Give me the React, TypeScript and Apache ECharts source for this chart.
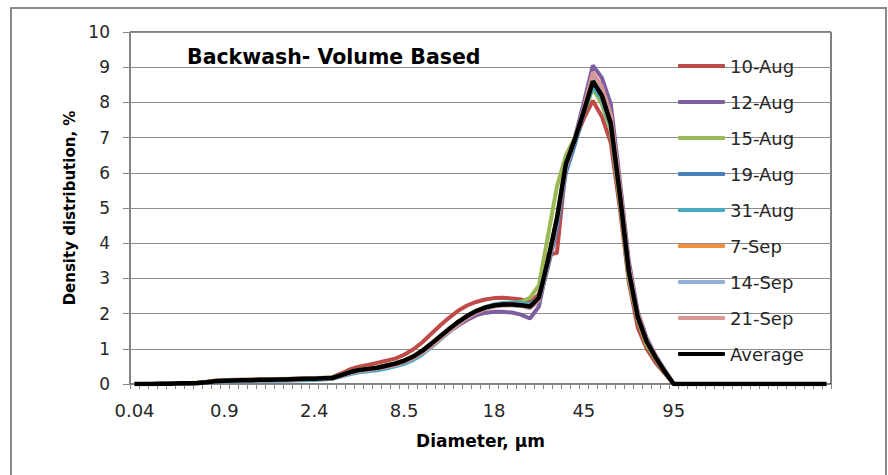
import React, { useEffect, useRef } from "react";
import * as echarts from "echarts";

// ---- data ----
const binCount = 78;
const tickLabels = ["0.04", "0.9", "2.4", "8.5", "18", "45", "95"];
const seriesNames = ["10-Aug", "12-Aug", "15-Aug", "19-Aug", "31-Aug", "7-Sep", "14-Sep", "21-Sep", "Average"];
const seriesColors = ["#BE4B48", "#7D5FA0", "#98B954", "#4A7EBB", "#46AAC5", "#F28E3C", "#94B1D9", "#D99694", "#000000"];

const aug10 = [0, 0, 0, 0.01, 0.01, 0.02, 0.02, 0.03, 0.06, 0.1,
  0.11, 0.12, 0.12, 0.13, 0.13, 0.13, 0.14, 0.14, 0.15, 0.15,
  0.16, 0.17, 0.19, 0.3, 0.42, 0.49, 0.54, 0.6, 0.66, 0.72,
  0.83, 0.98, 1.18, 1.42, 1.66, 1.88, 2.08, 2.23, 2.33, 2.4,
  2.44, 2.45, 2.43, 2.4, 2.32, 2.55, 3.68, 3.72, 6.2, 6.9,
  7.55, 8.05, 7.6, 6.85, 5.0, 2.9, 1.6, 1.0, 0.6, 0.3,
  0, 0, 0, 0, 0, 0, 0, 0, 0, 0, 0, 0, 0, 0, 0, 0, 0, 0];
const aug12 = [0, 0, 0, 0, 0.01, 0.01, 0.02, 0.02, 0.04, 0.06,
  0.07, 0.08, 0.08, 0.09, 0.09, 0.1, 0.1, 0.11, 0.11, 0.12,
  0.13, 0.14, 0.16, 0.24, 0.33, 0.39, 0.42, 0.45, 0.5, 0.56,
  0.63, 0.74, 0.9, 1.08, 1.28, 1.48, 1.66, 1.82, 1.95, 2.02,
  2.05, 2.05, 2.03, 1.97, 1.86, 2.2, 3.45, 4.6, 6.1, 7.0,
  8.0, 9.05, 8.7, 7.95, 5.8, 3.5, 2.05, 1.3, 0.8, 0.4,
  0, 0, 0, 0, 0, 0, 0, 0, 0, 0, 0, 0, 0, 0, 0, 0, 0, 0];
const aug15 = [0, 0, 0.01, 0.01, 0.02, 0.03, 0.03, 0.04, 0.06, 0.09,
  0.1, 0.11, 0.12, 0.12, 0.13, 0.13, 0.14, 0.15, 0.15, 0.16,
  0.17, 0.18, 0.19, 0.26, 0.35, 0.41, 0.44, 0.47, 0.53, 0.59,
  0.67, 0.79, 0.95, 1.15, 1.36, 1.57, 1.77, 1.94, 2.08, 2.18,
  2.24, 2.28, 2.3, 2.33, 2.45, 2.8, 4.2, 5.6, 6.5, 7.0,
  7.7, 8.4, 7.95, 7.2, 5.2, 3.0, 1.8, 1.1, 0.7, 0.32,
  0, 0, 0, 0, 0, 0, 0, 0, 0, 0, 0, 0, 0, 0, 0, 0, 0, 0];
const aug19 = [0, 0, 0, 0.01, 0.01, 0.02, 0.02, 0.03, 0.05, 0.08,
  0.09, 0.1, 0.1, 0.11, 0.11, 0.12, 0.12, 0.13, 0.13, 0.14,
  0.15, 0.16, 0.17, 0.24, 0.33, 0.38, 0.41, 0.44, 0.5, 0.56,
  0.64, 0.75, 0.9, 1.1, 1.31, 1.52, 1.73, 1.91, 2.06, 2.17,
  2.24, 2.27, 2.27, 2.25, 2.18, 2.35, 3.3, 4.4, 6.0, 6.8,
  7.7, 8.5, 8.15, 7.35, 5.4, 3.25, 1.95, 1.2, 0.75, 0.36,
  0, 0, 0, 0, 0, 0, 0, 0, 0, 0, 0, 0, 0, 0, 0, 0, 0, 0];
const aug31 = [0, 0, 0, 0, 0.01, 0.01, 0.02, 0.02, 0.04, 0.06,
  0.07, 0.07, 0.08, 0.08, 0.09, 0.09, 0.1, 0.1, 0.11, 0.11,
  0.12, 0.13, 0.15, 0.21, 0.28, 0.33, 0.36, 0.39, 0.44, 0.5,
  0.57, 0.68, 0.84, 1.04, 1.26, 1.48, 1.7, 1.9, 2.06, 2.18,
  2.26, 2.3, 2.31, 2.3, 2.26, 2.45, 3.45, 4.6, 6.15, 6.9,
  7.75, 8.45, 8.1, 7.3, 5.35, 3.2, 1.9, 1.2, 0.74, 0.35,
  0, 0, 0, 0, 0, 0, 0, 0, 0, 0, 0, 0, 0, 0, 0, 0, 0, 0];
const sep7 = [0, 0, 0, 0.01, 0.01, 0.02, 0.02, 0.03, 0.05, 0.08,
  0.09, 0.1, 0.11, 0.11, 0.12, 0.12, 0.13, 0.13, 0.14, 0.15,
  0.15, 0.16, 0.17, 0.25, 0.34, 0.4, 0.43, 0.46, 0.52, 0.58,
  0.66, 0.78, 0.94, 1.14, 1.35, 1.56, 1.76, 1.93, 2.07, 2.17,
  2.23, 2.26, 2.26, 2.24, 2.2, 2.45, 3.5, 4.7, 6.25, 6.95,
  7.75, 8.6, 8.2, 7.4, 5.4, 3.2, 1.9, 1.2, 0.75, 0.35,
  0, 0, 0, 0, 0, 0, 0, 0, 0, 0, 0, 0, 0, 0, 0, 0, 0, 0];
const sep14 = [0, 0, 0, 0.01, 0.01, 0.02, 0.02, 0.03, 0.05, 0.08,
  0.09, 0.1, 0.1, 0.11, 0.11, 0.12, 0.12, 0.13, 0.13, 0.14,
  0.15, 0.16, 0.17, 0.24, 0.33, 0.39, 0.42, 0.45, 0.51, 0.57,
  0.65, 0.77, 0.93, 1.12, 1.33, 1.54, 1.74, 1.91, 2.05, 2.15,
  2.21, 2.24, 2.24, 2.22, 2.17, 2.42, 3.45, 4.65, 6.2, 6.95,
  7.8, 8.7, 8.3, 7.5, 5.5, 3.3, 1.95, 1.22, 0.76, 0.36,
  0, 0, 0, 0, 0, 0, 0, 0, 0, 0, 0, 0, 0, 0, 0, 0, 0, 0];
const sep21 = [0, 0, 0, 0.01, 0.01, 0.02, 0.02, 0.03, 0.05, 0.07,
  0.08, 0.09, 0.1, 0.1, 0.11, 0.11, 0.12, 0.12, 0.13, 0.14,
  0.14, 0.15, 0.16, 0.23, 0.31, 0.37, 0.4, 0.43, 0.48, 0.54,
  0.62, 0.73, 0.88, 1.07, 1.28, 1.49, 1.69, 1.87, 2.02, 2.13,
  2.2, 2.23, 2.24, 2.22, 2.15, 2.38, 3.4, 4.6, 6.15, 6.95,
  7.85, 8.85, 8.45, 7.65, 5.65, 3.35, 2.0, 1.25, 0.78, 0.38,
  0, 0, 0, 0, 0, 0, 0, 0, 0, 0, 0, 0, 0, 0, 0, 0, 0, 0];
const average = [0, 0, 0, 0.01, 0.01, 0.02, 0.02, 0.03, 0.05, 0.08,
  0.09, 0.1, 0.11, 0.11, 0.12, 0.12, 0.13, 0.13, 0.14, 0.15,
  0.15, 0.16, 0.17, 0.25, 0.34, 0.4, 0.43, 0.46, 0.52, 0.58,
  0.66, 0.78, 0.94, 1.14, 1.35, 1.56, 1.76, 1.93, 2.07, 2.17,
  2.23, 2.26, 2.26, 2.24, 2.2, 2.45, 3.5, 4.7, 6.25, 6.95,
  7.75, 8.6, 8.2, 7.4, 5.4, 3.2, 1.9, 1.2, 0.75, 0.35,
  0, 0, 0, 0, 0, 0, 0, 0, 0, 0, 0, 0, 0, 0, 0, 0, 0, 0];

const seriesValues = [aug10, aug12, aug15, aug19, aug31, sep7, sep14, sep21, average];

const categories: string[] = [];
for (let i = 0; i < binCount; i++) {
  categories.push(i % 10 === 0 && tickLabels[i / 10] !== undefined ? tickLabels[i / 10] : "");
}

const FONT = "DejaVu Sans";
const AXIS_GRAY = "#868686";

export default function App() {
  const ref = useRef<HTMLDivElement>(null);
  useEffect(() => {
    if (!ref.current) return;
    const chart = echarts.init(ref.current, undefined, { renderer: "svg" });
    chart.setOption({
      animation: false,
      backgroundColor: "#ffffff",
      textStyle: { fontFamily: FONT },
      title: {
        text: "Backwash- Volume Based",
        left: 182,
        top: 41,
        textStyle: { fontFamily: FONT, fontSize: 20.5, fontWeight: "bold", color: "#000" },
      },
      graphic: [
        {
          type: "rect",
          shape: { x: 11, y: 8, width: 875, height: 480 },
          style: { fill: "none", stroke: "#8a8a8a", lineWidth: 2 },
          silent: true,
        },
      ],
      legend: {
        orient: "vertical",
        left: 673,
        top: 52,
        itemWidth: 47,
        itemHeight: 4,
        itemGap: 18,
        icon: "roundRect",
        textStyle: { fontFamily: FONT, fontSize: 18, color: "#262626" },
        data: seriesNames,
      },
      grid: {
        left: 130,
        right: 57,
        top: 32,
        bottom: 91,
        show: true,
        borderColor: "#000",
        borderWidth: 1,
        containLabel: false,
      },
      xAxis: {
        type: "category",
        data: categories,
        boundaryGap: true,
        name: "Diameter, µm",
        nameLocation: "middle",
        nameGap: 48,
        nameTextStyle: { fontFamily: FONT, fontSize: 17, fontWeight: "bold", color: "#000" },
        axisLine: { show: true, lineStyle: { color: AXIS_GRAY, width: 1 } },
        axisTick: { show: true, interval: 0, length: 5, lineStyle: { color: AXIS_GRAY } },
        axisLabel: { interval: 9, margin: 17, fontSize: 18, color: "#262626", fontFamily: FONT },
        splitLine: { show: false },
      },
      yAxis: {
        type: "value",
        min: 0,
        max: 10,
        interval: 1,
        name: "Density distribution, %",
        nameLocation: "middle",
        nameGap: 53,
        nameTextStyle: { fontFamily: FONT, fontSize: 15, fontWeight: "bold", color: "#000" },
        axisLine: { show: true, lineStyle: { color: AXIS_GRAY, width: 1 } },
        axisTick: { show: true, length: 7, lineStyle: { color: AXIS_GRAY } },
        axisLabel: { margin: 20, fontSize: 17, color: "#262626", fontFamily: FONT },
        splitLine: { show: true, lineStyle: { color: "#8c8c8c", width: 1 } },
      },
      series: seriesNames.map((name, k) => ({
        name,
        type: "line",
        data: seriesValues[k],
        showSymbol: false,
        symbol: "none",
        smooth: false,
        color: seriesColors[k],
        lineStyle: { color: seriesColors[k], width: k === 8 ? 4.5 : 4 },
        z: 2 + k,
      })),
    });
    return () => chart.dispose();
  }, []);
  return <div ref={ref} style={{ position: "absolute", left: 0, top: 0, width: 888, height: 475 }} />;
}
